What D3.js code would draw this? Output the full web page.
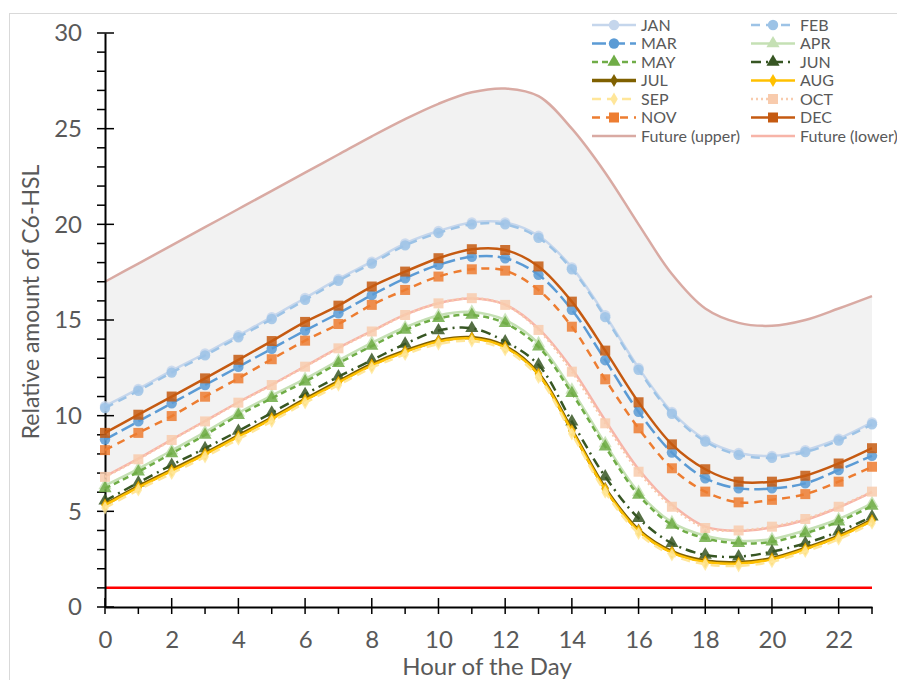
<!DOCTYPE html>
<html>
<head>
<meta charset="utf-8">
<script src="https://cdn.jsdelivr.net/npm/d3@7"></script>
<style>
  body { margin: 0; background: #fff; }
  svg { display: block; font-family: Lato, "Open Sans", sans-serif; }
</style>
</head>
<body>
<svg width="897" height="680" viewBox="0 0 897 680"></svg>
<script>
// hours of the day (x categories)
const hours = [0, 1, 2, 3, 4, 5, 6, 7, 8, 9, 10, 11, 12, 13, 14, 15, 16, 17, 18, 19, 20, 21, 22, 23];

// monthly curves
const jan = [10.5, 11.4, 12.35, 13.25, 14.2, 15.15, 16.15, 17.15, 18.05, 19.0, 19.65, 20.1, 20.1, 19.4, 17.75, 15.25, 12.5, 10.2, 8.75, 8.05, 7.9, 8.2, 8.8, 9.65];
const feb = [10.4, 11.3, 12.25, 13.15, 14.1, 15.05, 16.05, 17.05, 17.95, 18.9, 19.55, 20.0, 20.0, 19.3, 17.65, 15.15, 12.4, 10.1, 8.65, 7.95, 7.8, 8.1, 8.7, 9.55];
const mar = [8.75, 9.7, 10.65, 11.6, 12.55, 13.5, 14.45, 15.35, 16.3, 17.18, 17.88, 18.3, 18.23, 17.36, 15.53, 12.9, 10.2, 8.07, 6.73, 6.2, 6.2, 6.46, 7.16, 7.9];
const apr = [6.35, 7.22, 8.18, 9.14, 10.15, 11.05, 11.92, 12.88, 13.8, 14.62, 15.24, 15.42, 15.0, 13.78, 11.35, 8.55, 6.0, 4.42, 3.72, 3.46, 3.55, 4.0, 4.6, 5.42];
const may = [6.2, 7.07, 8.03, 8.99, 10.02, 10.91, 11.78, 12.74, 13.64, 14.48, 15.09, 15.26, 14.83, 13.6, 11.17, 8.38, 5.85, 4.29, 3.59, 3.33, 3.41, 3.85, 4.46, 5.28];
const jun = [5.55, 6.5, 7.42, 8.29, 9.2, 10.15, 11.12, 12.04, 12.9, 13.75, 14.45, 14.57, 13.87, 12.65, 9.69, 6.81, 4.64, 3.33, 2.72, 2.63, 2.89, 3.33, 3.94, 4.72];
const jul = [5.36, 6.3, 7.16, 8.03, 8.95, 9.88, 10.85, 11.78, 12.68, 13.38, 13.92, 14.08, 13.62, 12.2, 9.25, 6.2, 4.02, 2.89, 2.4, 2.32, 2.54, 3.07, 3.71, 4.55];
const aug = [5.32, 6.25, 7.11, 7.98, 8.9, 9.83, 10.8, 11.73, 12.63, 13.33, 13.87, 14.03, 13.57, 12.15, 9.2, 6.15, 3.97, 2.84, 2.35, 2.27, 2.49, 3.02, 3.66, 4.5];
const sep = [5.18, 6.12, 6.98, 7.85, 8.77, 9.7, 10.67, 11.6, 12.5, 13.2, 13.74, 13.9, 13.44, 12.0, 9.05, 6.0, 3.84, 2.72, 2.23, 2.15, 2.37, 2.9, 3.54, 4.38];
const oct = [6.8, 7.72, 8.73, 9.7, 10.68, 11.6, 12.56, 13.52, 14.4, 15.26, 15.87, 16.14, 15.79, 14.48, 12.3, 9.6, 7.07, 5.24, 4.13, 4.0, 4.2, 4.6, 5.24, 6.03];
const nov = [8.2, 9.1, 9.98, 10.99, 11.95, 12.95, 13.92, 14.79, 15.79, 16.57, 17.27, 17.65, 17.58, 16.57, 14.65, 11.9, 9.34, 7.25, 6.03, 5.47, 5.6, 5.9, 6.55, 7.33];
const dec = [9.1, 10.05, 11.0, 11.95, 12.92, 13.9, 14.9, 15.75, 16.75, 17.53, 18.23, 18.7, 18.66, 17.8, 15.96, 13.4, 10.7, 8.5, 7.2, 6.55, 6.55, 6.86, 7.5, 8.3];

// future envelope
const futureUpper = [17.0, 17.95, 18.9, 19.85, 20.8, 21.75, 22.7, 23.65, 24.6, 25.5, 26.3, 26.9, 27.1, 26.7, 25.0, 22.7, 20.0, 17.4, 15.6, 14.85, 14.7, 15.0, 15.6, 16.25];
const futureLower = [6.82, 7.75, 8.75, 9.72, 10.7, 11.62, 12.58, 13.54, 14.42, 15.28, 15.88, 16.12, 15.8, 14.55, 12.45, 9.75, 7.2, 5.35, 4.2, 3.98, 4.15, 4.55, 5.2, 6.0];

// threshold line
const threshold = 1;

const yTicks = [0, 5, 10, 15, 20, 25, 30];
const xTicks = [0, 2, 4, 6, 8, 10, 12, 14, 16, 18, 20, 22];

const svg = d3.select("svg");
const textColor = "#595959";

// series styles (month name, values, colour, dash, marker)
const series = [
    { name: "JAN", values: jan, color: "#c5d6ec", dash: null, marker: "circle", width: 2.5 },
    { name: "FEB", values: feb, color: "#9dc3e6", dash: "9,6", marker: "circle", width: 2.5 },
    { name: "MAR", values: mar, color: "#5b9bd5", dash: "14,5", marker: "circle", width: 2.5 },
    { name: "APR", values: apr, color: "#c5e0b4", dash: null, marker: "triangle", width: 2.5 },
    { name: "MAY", values: may, color: "#70ad47", dash: "6,4", marker: "triangle", width: 2.5 },
    { name: "JUN", values: jun, color: "#375623", dash: "10,5,2,5", marker: "triangle", width: 2.5 },
    { name: "JUL", values: jul, color: "#7f6000", dash: null, marker: "diamond", width: 3.5 },
    { name: "AUG", values: aug, color: "#ffc000", dash: null, marker: "diamond", width: 2.5 },
    { name: "SEP", values: sep, color: "#ffe699", dash: "9,6", marker: "diamond", width: 2.5 },
    { name: "OCT", values: oct, color: "#f8cbad", dash: "2,3", marker: "square", width: 2.5 },
    { name: "NOV", values: nov, color: "#ed7d31", dash: "8,6", marker: "square", width: 2.5 },
    { name: "DEC", values: dec, color: "#c55a11", dash: null, marker: "square", width: 2.5 }
];
const upperStyle = { name: "Future (upper)", color: "#d9aaa3", width: 2.5 };
const lowerStyle = { name: "Future (lower)", color: "#f7b4a8", width: 2.5 };

// scales
const x = d3.scaleLinear().domain([0, 23]).range([105, 872]);
const y = d3.scaleLinear().domain([0, 30]).range([607, 33]);

// chart frame
svg.append("rect")
    .attr("x", 9.5).attr("y", 13.5)
    .attr("width", 900).attr("height", 700)
    .attr("fill", "none")
    .attr("stroke", "#d9d9d9");

const curve = d3.curveCatmullRom.alpha(0.5);

// grey band between future upper and lower
const area = d3.area()
    .x((d, i) => x(hours[i]))
    .y0((d, i) => y(futureLower[i]))
    .y1((d, i) => y(futureUpper[i]))
    .curve(curve);

svg.append("path")
    .datum(futureUpper)
    .attr("d", area)
    .attr("fill", "#f2f2f2");

const line = d3.line()
    .x((d, i) => x(hours[i]))
    .y(d => y(d))
    .curve(curve);

// future lines
svg.append("path").datum(futureUpper).attr("d", line)
    .attr("fill", "none").attr("stroke", upperStyle.color).attr("stroke-width", upperStyle.width);
svg.append("path").datum(futureLower).attr("d", line)
    .attr("fill", "none").attr("stroke", lowerStyle.color).attr("stroke-width", lowerStyle.width);

// threshold
svg.append("line")
    .attr("x1", x(0)).attr("x2", x(23))
    .attr("y1", y(threshold)).attr("y2", y(threshold))
    .attr("stroke", "#ff0000").attr("stroke-width", 2.5);

// axes
const yAxisMajor = d3.axisLeft(y).tickValues(yTicks).tickSize(0).tickPadding(23);
const gy = svg.append("g").attr("transform", `translate(${x(0)},0)`).call(yAxisMajor);
gy.select(".domain").attr("stroke", "#000").attr("stroke-width", 2);
gy.selectAll("text").attr("font-size", 24).attr("fill", textColor).attr("font-family", "Lato");

const yMinor = d3.range(0, 31);
svg.append("g").selectAll("line").data(yMinor).join("line")
    .attr("x1", x(0) - 8)
    .attr("x2", d => d % 5 === 0 ? x(0) + 9 : x(0))
    .attr("y1", d => y(d)).attr("y2", d => y(d))
    .attr("stroke", "#000").attr("stroke-width", 1.5);

const xAxis = d3.axisBottom(x).tickValues(xTicks).tickSize(0).tickPadding(24).tickFormat(d3.format("d"));
const gx = svg.append("g").attr("transform", `translate(0,${y(0)})`).call(xAxis);
gx.select(".domain").attr("stroke", "#000").attr("stroke-width", 2);
gx.selectAll("text").attr("font-size", 24).attr("fill", textColor).attr("font-family", "Lato");

svg.append("g").selectAll("line").data(hours).join("line")
    .attr("x1", d => x(d)).attr("x2", d => x(d))
    .attr("y1", d => d % 2 === 0 ? y(0) - 9 : y(0))
    .attr("y2", d => y(0) + 7)
    .attr("stroke", "#000").attr("stroke-width", 1.5);

// axis titles
svg.append("text")
    .attr("transform", "translate(39,302) rotate(-90)")
    .attr("text-anchor", "middle")
    .attr("font-size", 23)
    .attr("fill", textColor)
    .text("Relative amount of C6-HSL");

svg.append("text")
    .attr("x", 487).attr("y", 675)
    .attr("text-anchor", "middle")
    .attr("font-size", 24)
    .attr("fill", textColor)
    .text("Hour of the Day");

// markers
function markerPath(type) {
    if (type === "circle") return d3.symbol(d3.symbolCircle, 85)();
    if (type === "triangle") return d3.symbol(d3.symbolTriangle, 75)();
    if (type === "diamond") return d3.symbol(d3.symbolDiamond, 50)();
    return d3.symbol(d3.symbolSquare, 100)();
}

// month lines
series.forEach(s => {
    svg.append("path").datum(s.values).attr("d", line)
        .attr("fill", "none")
        .attr("stroke", s.color)
        .attr("stroke-width", s.width)
        .attr("stroke-dasharray", s.dash);
    svg.append("g").selectAll("path").data(s.values).join("path")
        .attr("transform", (d, i) => `translate(${x(hours[i])},${y(d)})`)
        .attr("d", markerPath(s.marker))
        .attr("fill", s.color)
        .attr("fill-opacity", 0.85);
});

// legend
const legendItems = [...series.map(s => ({ ...s })),
    { ...upperStyle, dash: null, marker: null },
    { ...lowerStyle, dash: null, marker: null }];

const legend = svg.append("g");
legendItems.forEach((d, i) => {
    const col = i % 2, row = Math.floor(i / 2);
    const lx = col === 0 ? 592 : 751;
    const ly = 25 + row * 18.5;
    const g = legend.append("g").attr("transform", `translate(${lx},${ly})`);
    g.append("line")
        .attr("x1", 0).attr("x2", 44)
        .attr("stroke", d.color).attr("stroke-width", d.width)
        .attr("stroke-dasharray", d.dash);
    if (d.marker) {
        g.append("path").attr("transform", "translate(22,0)")
            .attr("d", markerPath(d.marker)).attr("fill", d.color);
    }
    g.append("text")
        .attr("x", 49).attr("y", 5.5)
        .attr("font-size", 16)
        .attr("fill", textColor)
        .text(d.name);
});
</script>
</body>
</html>
